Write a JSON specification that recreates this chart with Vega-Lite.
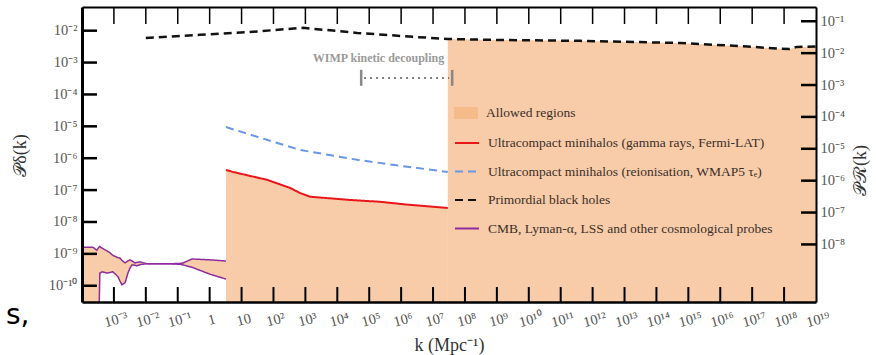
{
  "$schema": "https://vega.github.io/schema/vega-lite/v6.json",
  "width": 734,
  "height": 295,
  "autosize": "none",
  "padding": {"left": 82, "top": 7, "right": 60, "bottom": 53},
  "background": "white",
  "config": {"view": {"stroke": null}, "font": "Liberation Serif"},
  "title": {"text": "s,", "orient": "bottom", "anchor": "start", "frame": "group", "font": "DejaVu Sans", "fontSize": 28, "fontWeight": "normal", "color": "#000000", "dx": -76, "dy": -52, "offset": 0},
  "resolve": {"axis": {"x": "independent", "y": "independent"}},
  "datasets": {
    "cmb": [
      {"k": 1e-4, "hi": 1.62e-9, "lo": 1e-11},
      {"k": 2.19e-4, "hi": 1.62e-9, "lo": 1e-11},
      {"k": 2.9e-4, "hi": 1.3e-9, "lo": 1e-11},
      {"k": 3.39e-4, "hi": 1.62e-9, "lo": 1e-11},
      {"k": 3.63e-4, "hi": 1.7e-9, "lo": 2.5e-10},
      {"k": 4.27e-4, "hi": 1.5e-9, "lo": 2.75e-10},
      {"k": 6.0e-4, "hi": 1.25e-9, "lo": 2.5e-10},
      {"k": 7.6e-4, "hi": 1.07e-9, "lo": 2.6e-10},
      {"k": 9.3e-4, "hi": 8.9e-10, "lo": 2.75e-10},
      {"k": 1.35e-3, "hi": 7.6e-10, "lo": 1.9e-10},
      {"k": 1.55e-3, "hi": 7.4e-10, "lo": 1.4e-10},
      {"k": 1.78e-3, "hi": 6.3e-10, "lo": 1.07e-10},
      {"k": 2.24e-3, "hi": 5.2e-10, "lo": 1.23e-10},
      {"k": 2.75e-3, "hi": 6.0e-10, "lo": 2.5e-10},
      {"k": 3.16e-3, "hi": 6.5e-10, "lo": 3.5e-10},
      {"k": 3.7e-3, "hi": 6.0e-10, "lo": 4.5e-10},
      {"k": 4.6e-3, "hi": 5.2e-10, "lo": 4.4e-10},
      {"k": 5.2e-3, "hi": 5.4e-10, "lo": 4.2e-10},
      {"k": 6.6e-3, "hi": 5.6e-10, "lo": 4.6e-10},
      {"k": 0.011, "hi": 4.9e-10, "lo": 4.9e-10},
      {"k": 0.058, "hi": 4.9e-10, "lo": 4.9e-10},
      {"k": 0.117, "hi": 5.0e-10, "lo": 4.7e-10},
      {"k": 0.148, "hi": 5.2e-10, "lo": 4.5e-10},
      {"k": 0.28, "hi": 6.9e-10, "lo": 3.8e-10},
      {"k": 1.02, "hi": 6.5e-10, "lo": 2.3e-10},
      {"k": 3.0, "hi": 6.0e-10, "lo": 1.66e-10},
      {"k": 3.24, "hi": 6.0e-10, "lo": 1.6e-10}
    ],
    "red": [
      {"k": 3.24, "P": 4.3e-7},
      {"k": 5.4, "P": 3.7e-7},
      {"k": 63, "P": 2.1e-7},
      {"k": 331, "P": 1.17e-7},
      {"k": 676, "P": 8.1e-8},
      {"k": 1413, "P": 6.2e-8},
      {"k": 25000, "P": 4.9e-8},
      {"k": 220000, "P": 4.3e-8},
      {"k": 1550000, "P": 3.5e-8},
      {"k": 2.9e7, "P": 2.75e-8}
    ],
    "blue": [
      {"k": 3.24, "P": 9.5e-6},
      {"k": 38, "P": 4.4e-6},
      {"k": 676, "P": 1.82e-6},
      {"k": 42000, "P": 8.9e-7},
      {"k": 930000, "P": 5.8e-7},
      {"k": 2.9e7, "P": 3.7e-7}
    ],
    "pbh": [
      {"k": 0.01, "P": 5.9e-3},
      {"k": 0.5, "P": 7.4e-3},
      {"k": 18.6, "P": 9.1e-3},
      {"k": 851, "P": 0.0123},
      {"k": 42000, "P": 8.5e-3},
      {"k": 3.2e6, "P": 6.3e-3},
      {"k": 2.9e7, "P": 5.5e-3},
      {"k": 1.26e9, "P": 5.1e-3},
      {"k": 4.1e11, "P": 4.8e-3},
      {"k": 5.6e14, "P": 4.1e-3},
      {"k": 7.1e16, "P": 3.2e-3},
      {"k": 7.6e17, "P": 2.7e-3},
      {"k": 1.5e18, "P": 2.65e-3},
      {"k": 2.5e18, "P": 3.1e-3},
      {"k": 1e19, "P": 3.2e-3}
    ],
    "wimp_label": [{"k": 195000, "P": 1.38e-3, "text": "WIMP kinetic decoupling"}],
    "wimp_range": [{"k1": 69000, "k2": 3.2e7, "P": 3.3e-4}],
    "wimp_ends": [
      {"k": 56000, "lo": 1.86e-4, "hi": 5.9e-4},
      {"k": 3.98e7, "lo": 1.86e-4, "hi": 5.9e-4}
    ],
    "kticks": [
      {"k": 1e-3, "b0": 3.09e-11, "b1": 9.1e-11, "t0": 0.0553, "t1": 0.0162},
      {"k": 1e-2, "b0": 3.09e-11, "b1": 9.1e-11, "t0": 0.0553, "t1": 0.0162},
      {"k": 1e-1, "b0": 3.09e-11, "b1": 9.1e-11, "t0": 0.0553, "t1": 0.0162},
      {"k": 1, "b0": 3.09e-11, "b1": 9.1e-11, "t0": 0.0553, "t1": 0.0162},
      {"k": 10, "b0": 3.09e-11, "b1": 9.1e-11, "t0": 0.0553, "t1": 0.0162},
      {"k": 100, "b0": 3.09e-11, "b1": 9.1e-11, "t0": 0.0553, "t1": 0.0162},
      {"k": 1e3, "b0": 3.09e-11, "b1": 9.1e-11, "t0": 0.0553, "t1": 0.0162},
      {"k": 1e4, "b0": 3.09e-11, "b1": 9.1e-11, "t0": 0.0553, "t1": 0.0162},
      {"k": 1e5, "b0": 3.09e-11, "b1": 9.1e-11, "t0": 0.0553, "t1": 0.0162},
      {"k": 1e6, "b0": 3.09e-11, "b1": 9.1e-11, "t0": 0.0553, "t1": 0.0162},
      {"k": 1e7, "b0": 3.09e-11, "b1": 9.1e-11, "t0": 0.0553, "t1": 0.0162},
      {"k": 1e8, "b0": 3.09e-11, "b1": 9.1e-11, "t0": 0.0553, "t1": 0.0162},
      {"k": 1e9, "b0": 3.09e-11, "b1": 9.1e-11, "t0": 0.0553, "t1": 0.0162},
      {"k": 1e10, "b0": 3.09e-11, "b1": 9.1e-11, "t0": 0.0553, "t1": 0.0162},
      {"k": 1e11, "b0": 3.09e-11, "b1": 9.1e-11, "t0": 0.0553, "t1": 0.0162},
      {"k": 1e12, "b0": 3.09e-11, "b1": 9.1e-11, "t0": 0.0553, "t1": 0.0162},
      {"k": 1e13, "b0": 3.09e-11, "b1": 9.1e-11, "t0": 0.0553, "t1": 0.0162},
      {"k": 1e14, "b0": 3.09e-11, "b1": 9.1e-11, "t0": 0.0553, "t1": 0.0162},
      {"k": 1e15, "b0": 3.09e-11, "b1": 9.1e-11, "t0": 0.0553, "t1": 0.0162},
      {"k": 1e16, "b0": 3.09e-11, "b1": 9.1e-11, "t0": 0.0553, "t1": 0.0162},
      {"k": 1e17, "b0": 3.09e-11, "b1": 9.1e-11, "t0": 0.0553, "t1": 0.0162},
      {"k": 1e18, "b0": 3.09e-11, "b1": 9.1e-11, "t0": 0.0553, "t1": 0.0162}
    ],
    "lticks": [
      {"P": 1e-10, "a0": 1e-4, "a1": 2.95e-4}, {"P": 1e-9, "a0": 1e-4, "a1": 2.95e-4}, {"P": 1e-8, "a0": 1e-4, "a1": 2.95e-4},
      {"P": 1e-7, "a0": 1e-4, "a1": 2.95e-4}, {"P": 1e-6, "a0": 1e-4, "a1": 2.95e-4}, {"P": 1e-5, "a0": 1e-4, "a1": 2.95e-4},
      {"P": 1e-4, "a0": 1e-4, "a1": 2.95e-4}, {"P": 1e-3, "a0": 1e-4, "a1": 2.95e-4}, {"P": 1e-2, "a0": 1e-4, "a1": 2.95e-4}
    ],
    "rticks": [
      {"P": 0.019753, "a0": 1e19, "a1": 3.39e18}, {"P": 0.0019753, "a0": 1e19, "a1": 3.39e18}, {"P": 1.9753e-4, "a0": 1e19, "a1": 3.39e18},
      {"P": 1.9753e-5, "a0": 1e19, "a1": 3.39e18}, {"P": 1.9753e-6, "a0": 1e19, "a1": 3.39e18}, {"P": 1.9753e-7, "a0": 1e19, "a1": 3.39e18},
      {"P": 1.9753e-8, "a0": 1e19, "a1": 3.39e18}, {"P": 1.9753e-9, "a0": 1e19, "a1": 3.39e18}
    ]
  },
  "layer": [
    {
      "data": {"name": "cmb"},
      "mark": {"type": "area", "clip": true, "opacity": 0.66},
      "encoding": {
        "x": {"field": "k", "type": "quantitative",
          "scale": {"type": "log", "domain": [1e-4, 1e19], "nice": false},
          "axis": {"orient": "bottom", "values": [0.001, 0.01, 0.1, 1, 10, 100, 1000, 1e4, 1e5, 1e6, 1e7, 1e8, 1e9, 1e10, 1e11, 1e12, 1e13, 1e14, 1e15, 1e16, 1e17, 1e18, 1e19],
            "labelExpr": "datum.value > 0.5 && datum.value < 2 ? '1' : datum.value > 5 && datum.value < 20 ? '10' : '10' + (datum.value < 1 ? '⁻' : '') + (abs(round(log(datum.value)/LN10)) >= 10 ? ['⁰','¹','²','³','⁴','⁵','⁶','⁷','⁸','⁹'][floor(abs(round(log(datum.value)/LN10))/10)] : '') + ['⁰','¹','²','³','⁴','⁵','⁶','⁷','⁸','⁹'][abs(round(log(datum.value)/LN10)) % 10]",
            "zindex": 1, "domain": false, "ticks": false, "grid": false,
            "labelFont": "Liberation Serif", "labelFontSize": 14.5, "labelColor": "#555555", "labelAngle": -15, "labelAlign": "center", "labelBaseline": "top", "labelPadding": 11, "labelFlush": false, "labelOverlap": false,
            "title": "k (Mpc⁻¹)", "titleFont": "Liberation Serif", "titleFontSize": 18, "titleFontWeight": "normal", "titleColor": "#333333", "titleBaseline": "alphabetic", "titleY": 48}},
        "y": {"field": "hi", "type": "quantitative",
          "scale": {"type": "log", "domain": [3.09e-11, 0.0553], "nice": false},
          "axis": {"orient": "left", "values": [1e-10, 1e-9, 1e-8, 1e-7, 1e-6, 1e-5, 1e-4, 1e-3, 1e-2],
            "labelExpr": "'10⁻' + (round(-log(datum.value)/LN10) >= 10 ? '¹' : '') + ['⁰','¹','²','³','⁴','⁵','⁶','⁷','⁸','⁹'][round(-log(datum.value)/LN10) % 10]",
            "zindex": 1, "domain": false, "ticks": false, "grid": false,
            "labelFont": "Liberation Serif", "labelFontSize": 14.5, "labelColor": "#555555", "labelPadding": 5, "labelFlush": false, "labelOverlap": false,
            "title": "𝒫δ(k)", "titleFont": "Liberation Serif", "titleFontSize": 18, "titleFontWeight": "normal", "titleColor": "#333333", "titleAngle": 270, "titleX": -62, "titleY": 148, "titleBaseline": "middle", "titleAlign": "center"}},
        "y2": {"field": "lo"},
        "fill": {"datum": "Allowed regions", "type": "nominal",
          "scale": {"domain": ["Allowed regions"], "range": ["#f4b27b"]},
          "legend": {"title": null, "orient": "none", "legendX": 372, "legendY": 94, "symbolType": "M-1,-0.5H1V0.5H-1Z", "symbolSize": 576, "symbolStrokeWidth": 0, "padding": 0,
            "labelFont": "Liberation Serif", "labelFontSize": 13.5, "labelColor": "#3b2f2a", "labelLimit": 600, "labelOffset": 8}}
      }
    },
    {
      "data": {"name": "red"},
      "mark": {"type": "area", "clip": true, "opacity": 0.66},
      "encoding": {
        "x": {"field": "k", "type": "quantitative", "scale": {"type": "log", "domain": [1e-4, 1e19], "nice": false}, "axis": null},
        "y": {"field": "P", "type": "quantitative",
          "scale": {"type": "log", "domain": [3.09e-11, 0.0553], "nice": false},
          "axis": {"orient": "right", "values": [0.019753, 0.0019753, 1.9753e-4, 1.9753e-5, 1.9753e-6, 1.9753e-7, 1.9753e-8, 1.9753e-9],
            "labelExpr": "'10⁻' + ['⁰','¹','²','³','⁴','⁵','⁶','⁷','⁸','⁹'][round(-log(datum.value*81/16)/LN10) % 10]",
            "zindex": 1, "domain": false, "ticks": false, "grid": false,
            "labelFont": "Liberation Serif", "labelFontSize": 14.5, "labelColor": "#555555", "labelPadding": 4, "labelAlign": "left", "labelFlush": false, "labelOverlap": false,
            "title": "𝒫ℛ(k)", "titleFont": "Liberation Serif", "titleFontSize": 18, "titleFontWeight": "normal", "titleColor": "#333333", "titleAngle": 270, "titleX": 44, "titleY": 163, "titleBaseline": "middle", "titleAlign": "center"}},
        "y2": {"datum": 1e-11},
        "fill": {"datum": "Allowed regions", "type": "nominal", "scale": {"domain": ["Allowed regions"], "range": ["#f4b27b"]}, "legend": null}
      }
    },
    {
      "data": {"name": "pbh"},
      "transform": [{"filter": "datum.k >= 2.8e7"}],
      "mark": {"type": "area", "clip": true, "opacity": 0.66},
      "encoding": {
        "x": {"field": "k", "type": "quantitative", "scale": {"type": "log", "domain": [1e-4, 1e19], "nice": false},
          "axis": {"orient": "bottom", "labels": false, "ticks": false, "grid": false, "domain": true, "domainColor": "#000000", "domainWidth": 2.5, "zindex": 2, "title": null}},
        "y": {"field": "P", "type": "quantitative", "scale": {"type": "log", "domain": [3.09e-11, 0.0553], "nice": false},
          "axis": {"orient": "left", "labels": false, "ticks": false, "grid": false, "domain": true, "domainColor": "#000000", "domainWidth": 3, "zindex": 2, "title": null}},
        "y2": {"datum": 1e-11},
        "fill": {"datum": "Allowed regions", "type": "nominal", "scale": {"domain": ["Allowed regions"], "range": ["#f4b27b"]}, "legend": null}
      }
    },
    {
      "data": {"name": "kticks"},
      "mark": {"type": "rule", "color": "#000000", "strokeWidth": 2},
      "encoding": {
        "x": {"field": "k", "type": "quantitative", "scale": {"type": "log", "domain": [1e-4, 1e19], "nice": false}, "axis": null},
        "y": {"field": "b0", "type": "quantitative", "scale": {"type": "log", "domain": [3.09e-11, 0.0553], "nice": false}, "axis": null},
        "y2": {"field": "b1"}
      }
    },
    {
      "data": {"name": "kticks"},
      "mark": {"type": "rule", "color": "#000000", "strokeWidth": 1.5},
      "encoding": {
        "x": {"field": "k", "type": "quantitative", "scale": {"type": "log", "domain": [1e-4, 1e19], "nice": false}, "axis": null},
        "y": {"field": "t0", "type": "quantitative", "scale": {"type": "log", "domain": [3.09e-11, 0.0553], "nice": false}, "axis": null},
        "y2": {"field": "t1"}
      }
    },
    {
      "data": {"name": "lticks"},
      "mark": {"type": "rule", "color": "#000000", "strokeWidth": 2.5},
      "encoding": {
        "x": {"field": "a0", "type": "quantitative", "scale": {"type": "log", "domain": [1e-4, 1e19], "nice": false}, "axis": null},
        "x2": {"field": "a1"},
        "y": {"field": "P", "type": "quantitative", "scale": {"type": "log", "domain": [3.09e-11, 0.0553], "nice": false}, "axis": null}
      }
    },
    {
      "data": {"name": "rticks"},
      "mark": {"type": "rule", "color": "#000000", "strokeWidth": 2.5},
      "encoding": {
        "x": {"field": "a0", "type": "quantitative", "scale": {"type": "log", "domain": [1e-4, 1e19], "nice": false}, "axis": null},
        "x2": {"field": "a1"},
        "y": {"field": "P", "type": "quantitative", "scale": {"type": "log", "domain": [3.09e-11, 0.0553], "nice": false}, "axis": null}
      }
    },
    {
      "data": {"name": "cmb"},
      "mark": {"type": "line", "clip": true, "strokeWidth": 1.5},
      "encoding": {
        "x": {"field": "k", "type": "quantitative", "scale": {"type": "log", "domain": [1e-4, 1e19], "nice": false},
          "axis": {"orient": "top", "labels": false, "ticks": false, "grid": false, "domain": true, "domainColor": "#000000", "domainWidth": 2, "zindex": 2, "title": null}},
        "y": {"field": "hi", "type": "quantitative", "scale": {"type": "log", "domain": [3.09e-11, 0.0553], "nice": false},
          "axis": {"orient": "right", "labels": false, "ticks": false, "grid": false, "domain": true, "domainColor": "#000000", "domainWidth": 2, "zindex": 2, "title": null}},
        "color": {"datum": "CMB, Lyman-α, LSS and other cosmological probes", "type": "nominal",
          "scale": {"domain": ["Ultracompact minihalos (gamma rays, Fermi-LAT)", "Ultracompact minihalos (reionisation, WMAP5 τₑ)", "Primordial black holes", "CMB, Lyman-α, LSS and other cosmological probes"], "range": ["#e8161b", "#6a96e8", "#111111", "#8e2c9c"]},
          "legend": {"title": null, "orient": "none", "legendX": 372, "legendY": 123, "direction": "vertical", "symbolType": "stroke", "symbolSize": 576, "symbolStrokeWidth": 2, "rowPadding": 8.5, "padding": 0,
            "labelFont": "Liberation Serif", "labelFontSize": 13.5, "labelColor": "#3b2f2a", "labelLimit": 600, "labelOffset": 8}},
        "strokeDash": {"datum": "CMB, Lyman-α, LSS and other cosmological probes", "type": "nominal",
          "scale": {"domain": ["Ultracompact minihalos (gamma rays, Fermi-LAT)", "Ultracompact minihalos (reionisation, WMAP5 τₑ)", "Primordial black holes", "CMB, Lyman-α, LSS and other cosmological probes"], "range": [[1, 0], [8, 5], [8, 5], [1, 0]]},
          "legend": {"title": null, "orient": "none", "legendX": 372, "legendY": 123, "direction": "vertical", "symbolType": "stroke", "symbolSize": 576, "symbolStrokeWidth": 2, "rowPadding": 8.5, "padding": 0,
            "labelFont": "Liberation Serif", "labelFontSize": 13.5, "labelColor": "#3b2f2a", "labelLimit": 600, "labelOffset": 8}}
      }
    },
    {
      "data": {"name": "cmb"},
      "transform": [{"filter": "datum.k >= 3.3e-4"}],
      "mark": {"type": "line", "clip": true, "strokeWidth": 1.5},
      "encoding": {
        "x": {"field": "k", "type": "quantitative", "scale": {"type": "log", "domain": [1e-4, 1e19], "nice": false}, "axis": null},
        "y": {"field": "lo", "type": "quantitative", "scale": {"type": "log", "domain": [3.09e-11, 0.0553], "nice": false}, "axis": null},
        "color": {"datum": "CMB, Lyman-α, LSS and other cosmological probes", "type": "nominal", "legend": null},
        "strokeDash": {"datum": "CMB, Lyman-α, LSS and other cosmological probes", "type": "nominal", "legend": null}
      }
    },
    {
      "data": {"name": "blue"},
      "mark": {"type": "line", "clip": true, "strokeWidth": 2},
      "encoding": {
        "x": {"field": "k", "type": "quantitative", "scale": {"type": "log", "domain": [1e-4, 1e19], "nice": false}, "axis": null},
        "y": {"field": "P", "type": "quantitative", "scale": {"type": "log", "domain": [3.09e-11, 0.0553], "nice": false}, "axis": null},
        "color": {"datum": "Ultracompact minihalos (reionisation, WMAP5 τₑ)", "type": "nominal", "legend": null},
        "strokeDash": {"datum": "Ultracompact minihalos (reionisation, WMAP5 τₑ)", "type": "nominal", "legend": null}
      }
    },
    {
      "data": {"name": "red"},
      "mark": {"type": "line", "clip": true, "strokeWidth": 2},
      "encoding": {
        "x": {"field": "k", "type": "quantitative", "scale": {"type": "log", "domain": [1e-4, 1e19], "nice": false}, "axis": null},
        "y": {"field": "P", "type": "quantitative", "scale": {"type": "log", "domain": [3.09e-11, 0.0553], "nice": false}, "axis": null},
        "color": {"datum": "Ultracompact minihalos (gamma rays, Fermi-LAT)", "type": "nominal", "legend": null},
        "strokeDash": {"datum": "Ultracompact minihalos (gamma rays, Fermi-LAT)", "type": "nominal", "legend": null}
      }
    },
    {
      "data": {"name": "pbh"},
      "mark": {"type": "line", "clip": true, "strokeWidth": 2.5},
      "encoding": {
        "x": {"field": "k", "type": "quantitative", "scale": {"type": "log", "domain": [1e-4, 1e19], "nice": false}, "axis": null},
        "y": {"field": "P", "type": "quantitative", "scale": {"type": "log", "domain": [3.09e-11, 0.0553], "nice": false}, "axis": null},
        "color": {"datum": "Primordial black holes", "type": "nominal", "legend": null},
        "strokeDash": {"datum": "Primordial black holes", "type": "nominal", "legend": null}
      }
    },
    {
      "data": {"name": "wimp_label"},
      "mark": {"type": "text", "font": "Liberation Serif", "fontWeight": "bold", "fontSize": 12, "color": "#9a9a9a", "align": "center", "baseline": "middle"},
      "encoding": {
        "x": {"field": "k", "type": "quantitative", "scale": {"type": "log", "domain": [1e-4, 1e19], "nice": false}, "axis": null},
        "y": {"field": "P", "type": "quantitative", "scale": {"type": "log", "domain": [3.09e-11, 0.0553], "nice": false}, "axis": null},
        "text": {"field": "text", "type": "nominal"}
      }
    },
    {
      "data": {"name": "wimp_range"},
      "mark": {"type": "rule", "color": "#555555", "strokeWidth": 1.5, "strokeDash": [2, 4]},
      "encoding": {
        "x": {"field": "k1", "type": "quantitative", "scale": {"type": "log", "domain": [1e-4, 1e19], "nice": false}, "axis": null},
        "x2": {"field": "k2"},
        "y": {"field": "P", "type": "quantitative", "scale": {"type": "log", "domain": [3.09e-11, 0.0553], "nice": false}, "axis": null}
      }
    },
    {
      "data": {"name": "wimp_ends"},
      "mark": {"type": "rule", "color": "#888888", "strokeWidth": 2.5},
      "encoding": {
        "x": {"field": "k", "type": "quantitative", "scale": {"type": "log", "domain": [1e-4, 1e19], "nice": false}, "axis": null},
        "y": {"field": "hi", "type": "quantitative", "scale": {"type": "log", "domain": [3.09e-11, 0.0553], "nice": false}, "axis": null},
        "y2": {"field": "lo"}
      }
    }
  ]
}
